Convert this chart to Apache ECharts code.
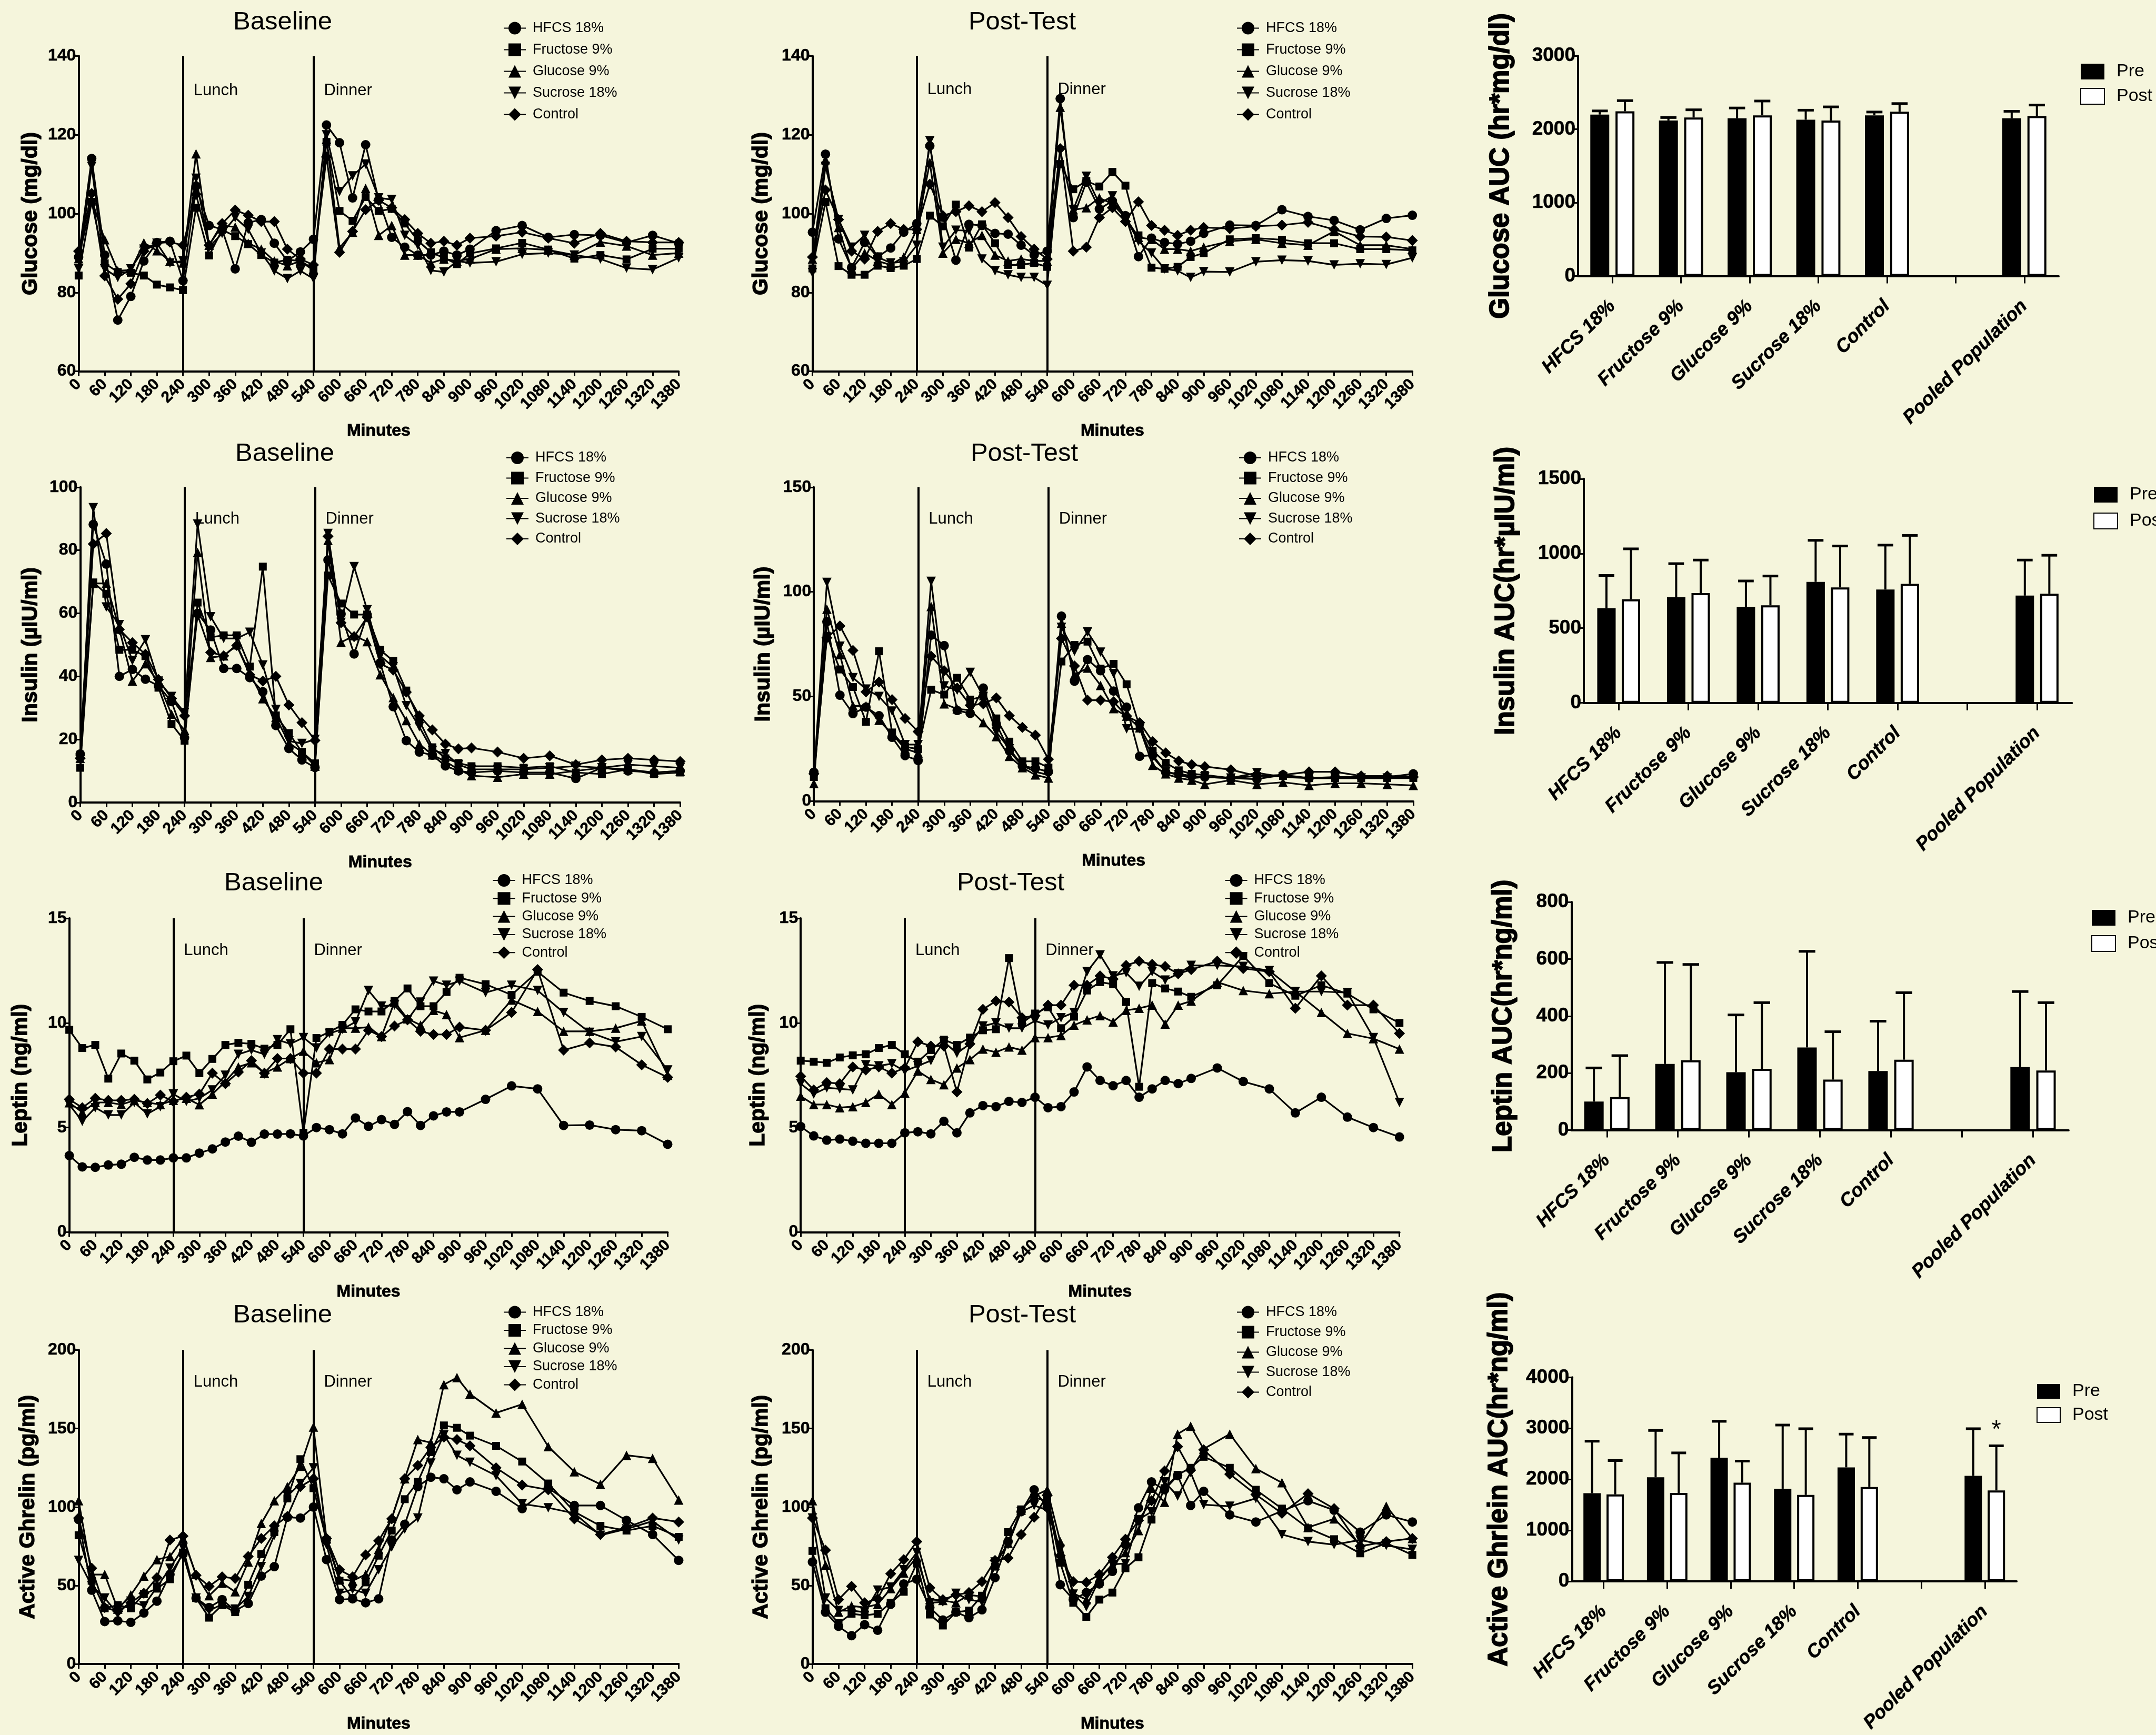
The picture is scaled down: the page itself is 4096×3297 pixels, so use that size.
<!DOCTYPE html>
<html><head><meta charset="utf-8">
<script src="https://cdn.jsdelivr.net/npm/echarts@6/dist/echarts.min.js"></script>
<style>html,body{margin:0;padding:0;background:#F5F5DC}#c{width:4096px;height:3297px}</style>
</head><body><div id="c"></div>
<script>
// ---------------- DATA ----------------
const minutes = [0,30,60,90,120,150,180,210,240,270,300,330,360,390,420,450,480,510,540,570,600,630,660,690,720,750,780,810,840,870,900,960,1020,1080,1140,1200,1260,1320,1380];
const groups = ['HFCS 18%','Fructose 9%','Glucose 9%','Sucrose 18%','Control'];

const glucoseBaseHFCS = [89,114,89.5,73,79,88,92.7,93,83,107,97,96,86,97.7,98.5,92.5,88,90.3,93.5,122.5,118,104,117.5,103.5,94,91.5,89.5,89.5,90.5,89.5,91,95.7,97,94,94.7,94.5,92.7,94.5,92.5];
const glucoseBaseFructose = [84.3,103,87.4,85.2,85,84.3,82,81.3,80.6,101.5,89.4,95.9,94.3,92.3,89.5,87.6,88.3,88,85.6,118.2,100.7,98.2,104.2,100.7,101.2,97.5,93.2,90.2,88.8,87.2,89.9,91.2,92.6,90.9,88.6,89.5,88.4,91.1,91.1];
const glucoseBaseGlucose = [88.6,103.5,93.4,85.5,85.7,92.6,90.6,88,87.5,115.2,92,97,96.6,92.5,91,88,86.8,88,86,118.9,91.3,95.3,106.4,94.5,97,89.5,89.5,87.5,88.5,88,88.5,91,91.2,90.8,89.5,92.8,91.8,89.5,90];
const glucoseBaseSucrose = [86,112,86,83.8,86,91,92.5,87.5,88,109,91.5,95,99,96,90,85.5,83.5,85.5,83.5,120,105.6,109.6,112.6,104,103.6,94.5,92,85.6,85.2,88,87.5,87.8,89.7,90,89.5,88.5,86.2,85.8,88.8];
const glucoseBaseControl = [90.5,105.1,84.2,78.3,82.2,90.5,92.5,92.8,92,104.9,92,97.5,100.9,99.6,98,98,91,88.5,87,114.4,90.2,95.5,101,103.4,101.5,98.5,95,92.5,93,92,93.8,94.3,95.3,93.8,92.5,95,93,92.7,92.7];

const glucosePostHFCS = [95.3,115.1,93.6,86.3,92.7,89,91.3,95.3,97.5,117.2,99.1,88.2,97.3,97,95,94.8,92,89.5,90.5,129.2,99,108,101.2,103.2,99.5,89.1,93.8,92.7,92.3,93,95,97.1,97,101,99.3,98.3,95.9,98.8,99.6];
const glucosePostFructose = [86.1,103,86.7,84.5,84.5,86.8,86.2,86.8,88.5,99.5,96.8,102.3,91.4,97.3,92.5,87,87,87.5,86.5,112.6,106.2,108.3,106.9,110.6,107.1,94.5,86.3,86,86.5,89,90,93.5,93.8,93.4,92.5,92.5,91,91,90.7];
const glucosePostGlucose = [88.5,113.7,96.5,86,90,88,87,89,96,113,90,93.5,92.5,94.5,89.5,88,88.5,88,88,127,101,101.5,104,102.5,99,94,93.5,91,91,90.5,91.5,93,93.5,92.5,92,95.5,92,92,91];
const glucosePostSucrose = [85,112,98.5,91.5,94.5,89,87.5,87.8,92,118.5,91.5,95.8,95.7,88.5,85.5,84.5,83.8,83.8,81.8,116,101,109.5,102.5,104.5,99,93,90,86,85.5,83.8,85.3,85.2,87.8,88.2,88,87,87.3,87.1,88.8];
const glucosePostControl = [89,106,98.5,90.5,88.5,95.5,97.5,96,96,107.5,99.5,100.5,102,100.5,102.8,99,94.2,91,88.5,116.5,90.5,91.5,99,101.5,98,103,97,95.8,94.5,95.8,96.5,96.2,96.8,97.1,97.8,96,94.2,94.1,93.2];

const insulinBaseHFCS = [15.4,88.2,75.6,40,42.2,39.1,37,32,20.5,60,54.7,42.5,42.5,39.6,35.1,24.4,17.1,13.5,11.1,76.9,59.8,47.1,59.5,44.3,30.4,19.6,16,15,11.6,10,9.5,10,9.5,9.5,7.6,11,10,9.5,10];
const insulinBaseFructose = [11,69.8,66.2,48.4,48.4,46.4,36.4,24.9,19.6,63.4,52.4,53,53,43.1,74.8,27.6,22,16,12.4,72,63.1,59.6,59.6,48.4,44.9,35.5,26,17.5,14,12.5,11.5,11.5,11,11.5,9.5,9,10.5,9,9.5];
const insulinBaseGlucose = [14,69.5,69.5,55,38.5,44,38,28,22.9,79.3,46,46.5,50,41,32.9,27,18.9,16,11.5,83.1,50.8,52.9,51,40.5,33.3,26,18.5,15.1,13,10.5,8.5,8,9,9,10,11,10.5,9.5,10];
const insulinBaseSucrose = [13.5,93.5,62,56.4,45,51.6,38.5,33.6,28.5,88.3,58.9,52,52,54,43.6,29.5,19.5,18.7,20,85.3,57.1,74.8,61.1,46.5,43,30.7,24,16.5,15.5,12,10.5,10.5,10.5,11,11.5,11,12,11.5,11];
const insulinBaseControl = [14,82,85.3,54.9,50.7,47,39,33,27.5,59.5,47.6,46.5,49.8,40.5,38.5,40,30.9,25.3,19.7,84.4,57,52.6,58.8,44,42,35,27.5,23,18.5,17,17.3,16,14,14.8,12,13.5,14,13.5,13];

const insulinPostHFCS = [13.8,85.7,50.6,41.8,44.9,40.8,30.5,21.7,19.4,79.3,74.3,43.3,41.9,54,36.8,24,16.7,15.7,14,88.4,57.3,67.6,62.3,52.6,44.9,21.4,22,13.8,13,12,11.5,11,10.5,12.5,11,11.5,11.5,11.5,13];
const insulinPostFructose = [11.5,79,62.9,54.5,37.9,71.6,32.8,26,24.8,53.2,50.9,58.9,48.5,50,39.5,28.4,19,19,16,66.7,74.6,76.2,63.3,65.6,55.8,35.5,24.1,18.3,14.7,13,12.5,11,12,12,11,11,11,11,11];
const insulinPostGlucose = [8.4,91.7,70,45.5,45.5,38.6,32.1,25,23,93,46.5,44,43.5,37.5,30.8,21.4,16,12.5,11,85,60.3,63.6,55.3,44.2,40.6,35,17.1,13,11,10,8,10,8,9,7.5,8.5,8.5,8,7.5];
const insulinPostSucrose = [12,104.5,74,59,53.5,50,43,27,27,105,55,53,61.5,50,33,25,17,14,12.5,83,71.6,80.8,71.2,60.9,34.5,34.5,21,14,12.5,11,11.5,11,13.5,11.5,11,11,11,11,11.5];
const insulinPostControl = [13,78,83.7,72,52.2,56.9,48.5,39.5,33.2,69.2,62.3,54,45.8,46.5,49.3,40.8,35.2,31.5,20,77.7,64.6,48.2,48.2,47.5,40.6,37.5,28.4,23,19.2,17.4,16.5,15,12,12.5,14,14,12,12,11.5];

const leptinBaseHFCS = [3.66,3.12,3.1,3.21,3.25,3.58,3.45,3.45,3.55,3.55,3.78,3.98,4.31,4.59,4.3,4.69,4.69,4.7,4.6,5.0,4.9,4.7,5.46,5.06,5.38,5.15,5.76,5.1,5.56,5.75,5.75,6.35,6.99,6.85,5.1,5.12,4.9,4.85,4.2];
const leptinBaseFructose = [9.67,8.8,8.95,7.34,8.54,8.2,7.3,7.63,8.17,8.44,7.6,8.28,8.95,9.05,9,8.77,8.95,9.7,4.75,9.28,9.57,9.91,10.65,10.55,10.55,11.05,11.65,10.8,10.8,11.48,12.16,11.85,11.34,12.45,11.45,11.05,10.8,10.29,9.7];
const leptinBaseGlucose = [6.19,5.73,6.2,6.2,6.1,6.3,6.2,6.1,6.3,6.4,6.09,6.6,7.2,7.9,8.1,7.6,7.9,8.3,8.65,8.1,8.25,9.75,9.75,9.8,9.35,11,10.2,9.9,10.6,10.4,9.3,9.65,11.1,10.55,9.6,9.6,9.75,10.1,7.5];
const leptinBaseSucrose = [6.1,5.3,5.95,5.6,5.6,6.2,5.65,6,6.6,6.25,6.4,6.8,7.5,8.5,8.7,8.5,9.2,9.0,9.3,8.8,9.5,9.7,10.05,11.55,10.8,10.85,10.15,11,12,11.8,12,11.45,11.8,11.55,10.5,9.55,9.1,9.35,7.75];
const leptinBaseControl = [6.35,5.95,6.4,6.3,6.3,6.35,6.15,6.55,6.25,6.45,6.6,7.6,7.1,7.65,8.2,7.6,8.3,8.3,7.6,7.6,8.75,8.75,8.75,9.65,9.35,9.85,10.15,9.6,9.45,9.45,9.8,9.65,10.5,12.55,8.7,9.05,8.85,8,7.4];

const leptinPostHFCS = [5.05,4.6,4.4,4.45,4.35,4.25,4.25,4.25,4.75,4.8,4.7,5.3,4.75,5.7,6.05,6.0,6.25,6.2,6.45,5.95,6.0,6.7,7.9,7.25,7.0,7.25,6.45,6.85,7.25,7.1,7.35,7.85,7.2,6.85,5.7,6.45,5.5,5.0,4.55];
const leptinPostFructose = [8.2,8.15,8.1,8.35,8.45,8.5,8.8,8.95,8.5,8.15,8.7,9.2,8.95,9.3,9.65,9.7,13.1,10.0,10.45,10.75,9.75,10.3,11.55,11.95,11.85,11.0,6.95,11.9,11.65,11.5,11.25,11.8,13.2,11.9,11.3,11.8,11.4,10.65,10.0];
const leptinPostGlucose = [6.5,6.1,6.1,5.95,6.0,6.2,6.6,6.1,6.65,7.7,7.3,7.05,7.85,8.25,8.75,8.6,8.85,8.7,9.3,9.3,9.4,9.9,10.15,10.35,10.05,10.6,10.7,10.85,9.95,10.85,11.05,11.95,11.55,11.4,11.5,10.5,9.5,9.25,8.75];
const leptinPostSucrose = [7.1,6.6,6.9,6.85,6.8,8.0,7.95,8.05,7.7,7.95,8.2,9.1,8.55,9.0,9.85,10.0,9.75,9.75,10.1,9.9,10.25,10.5,12.45,13.25,12.25,12.4,11.75,12.45,12.05,12.35,12.75,12.75,12.7,12.5,11.5,11.5,11.45,9.3,6.2];
const leptinPostControl = [7.45,6.8,7.15,7.1,7.9,7.75,7.9,7.6,7.85,9.1,8.9,8.9,6.7,9.0,10.65,11.05,11.0,10.25,10.35,10.85,10.85,11.8,11.8,12.25,12.1,12.75,12.95,12.8,12.7,12.35,12.55,12.95,12.6,12.45,10.7,12.25,10.85,10.85,9.5];

const ghrelinBaseHFCS = [92,47,27,27.5,26.5,32.5,40,57,70,42,36,41,34,38.5,56,62,93.5,93,100,66.5,41,41.5,39,41.5,79,89,113,119,118,111,116,110,99,112,101,101,91.5,82.5,66];
const ghrelinBaseFructose = [82,53,35.5,37.5,35.5,44.5,48,54,71,42,29.5,37.5,33,50.5,70,84,105.5,130.5,112,79,53,42,52,69,85,105,116,135,152,150.5,145.5,139,129,115,97,88,85,88,81];
const ghrelinBaseGlucose = [104,57,57,35,44,56,66.5,68.5,80,57,43.5,51.5,46,65,89.5,104,113,126,151,80,54,53,57,73,93,118,143,141,178,182.5,172,160,165.5,138.5,122.5,114.5,133,131,104.5];
const ghrelinBaseSucrose = [66,50,42,32,40,37,49,61,74,42,34,38,35,43,62,82,107,115,125,76,45,47.5,45,60,74.5,86,93,128,146,133,128.5,120,102,99.5,96,82,86,91,79];
const ghrelinBaseControl = [93,61,36,33.5,39,45,55,79,81.5,56.5,49.5,55.5,54.5,68.5,80,88,94,113,118,80,60,55.5,69.5,78.5,92.5,118,126.5,138,144.5,143,139,125,114,111,92.5,82.5,87,93,90.5];

const ghrelinPostHFCS = [65,33,24,18,25,21.5,38,51,54,36,28,33,29.5,34.5,55,78,97,111,100,50.5,41,45.5,51,59,76,99.5,116,111,120,101,110,95,90.5,97.5,104,98,84,95,90.5];
const ghrelinPostFructose = [72,35.5,26,32,31,32,39,46,64,31.5,24.5,33,34,43.5,62,84,98.5,106,104,64.5,39,30,41,45.5,61,68,92,112,120.5,125,132,125,111,99,86.5,79.5,70.5,77,69.5];
const ghrelinPostGlucose = [104,63,33,37,36,38,48,58,68,41,40.5,39,44,43,63,77,98,107,111,78,45,41,55,63,71,85,112,103,146.5,151.5,137,146.5,124.5,115.5,87,92.5,76,100.5,80];
const ghrelinPostSucrose = [93,42,34,34,33,47,49,60,71,39,39.5,45,41,39.5,65,76,97,101,98,73,44.5,36.5,54,63.5,64,92,97,116,107,122,101.5,100.5,105.5,82.5,78,76,79,75.5,73];
const ghrelinPostControl = [93,72.5,41,49.5,39,41.5,57.5,66.5,78,48.5,41,44,45.5,52.5,66,67.5,82.5,93.5,107.5,69,52.5,52,57,68,79.5,91.5,104,123,138.5,123.5,136.5,121,108,96,108.5,99,75,78,80];

// axis ranges [min, max, interval]
const glucoseRange = [60,140,20];
const insulinBaseRange = [0,100,20];
const insulinPostRange = [0,150,50];
const leptinRange = [0,15,5];
const ghrelinRange = [0,200,50];
const minutesRange = [0,1380,60];
const mealTimes = [240,540];
const mealNames = ['Lunch','Dinner'];

// AUC bar data
const aucCategories = ['HFCS 18%','Fructose 9%','Glucose 9%','Sucrose 18%','Control','','Pooled Population'];
const glucoseAucPre = [2200,2120,2150,2130,2190,null,2150];
const glucoseAucPreSD = [50,40,140,130,45,null,95];
const glucoseAucPost = [2245,2160,2190,2120,2240,null,2180];
const glucoseAucPostSD = [145,105,195,185,110,null,150];
const glucoseAucRange = [0,3000,1000];

const insulinAucPre = [634,707,643,810,759,null,718];
const insulinAucPreSD = [219,225,173,278,297,null,238];
const insulinAucPost = [694,735,653,773,797,null,731];
const insulinAucPostSD = [337,221,196,277,324,null,257];
const insulinAucRange = [0,1500,500];

const leptinAucPre = [100,232,203,290,207,null,221];
const leptinAucPreSD = [118,356,201,337,175,null,265];
const leptinAucPost = [116,245,215,177,247,null,209];
const leptinAucPostSD = [145,336,232,168,235,null,238];
const leptinAucRange = [0,800,200];

const ghrelinAucPre = [1727,2039,2423,1816,2234,null,2067];
const ghrelinAucPreSD = [1020,919,714,1248,652,null,925];
const ghrelinAucPost = [1705,1733,1933,1694,1850,null,1783];
const ghrelinAucPostSD = [663,785,424,1298,969,null,874];
const ghrelinAucRange = [0,4000,1000];
const significanceMark = '*';

// ---------------- LAYOUT / STYLE ----------------
const FONT = 'Liberation Sans';
const BG = '#F5F5DC';
const symbols = ['circle','rect','triangle','triangle','diamond'];
const rotations = [0,0,0,180,0];
const symbolSizes = [18,15,18,18,21];
const plain = v => String(v);

const linePanels = [
  {g:[149.4,106.5,1140,599.1], d:[glucoseBaseHFCS,glucoseBaseFructose,glucoseBaseGlucose,glucoseBaseSucrose,glucoseBaseControl], r:glucoseRange, yName:'Glucose (mg/dl)', ng:70, title:'Baseline', t:[537,42.6], leg:[956,53.5,41], meal:66},
  {g:[1543.5,106.5,1139.7,599.1], d:[glucosePostHFCS,glucosePostFructose,glucosePostGlucose,glucosePostSucrose,glucosePostControl], r:glucoseRange, yName:'Glucose (mg/dl)', ng:76, title:'Post-Test', t:[1942,42.6], leg:[2349,53.5,41], meal:64},
  {g:[152.4,925.8,1139.8,599.1], d:[insulinBaseHFCS,insulinBaseFructose,insulinBaseGlucose,insulinBaseSucrose,insulinBaseControl], r:insulinBaseRange, yName:'Insulin (\u00b5IU/ml)', ng:73, title:'Baseline', t:[541,862], leg:[961,870,38.5], meal:61},
  {g:[1546.2,925.8,1138.8,596.5], d:[insulinPostHFCS,insulinPostFructose,insulinPostGlucose,insulinPostSucrose,insulinPostControl], r:insulinPostRange, yName:'Insulin (\u00b5IU/ml)', ng:75, title:'Post-Test', t:[1946,862], leg:[2353,870,38.5], meal:61},
  {g:[131.6,1745.1,1136.9,596.4], d:[leptinBaseHFCS,leptinBaseFructose,leptinBaseGlucose,leptinBaseSucrose,leptinBaseControl], r:leptinRange, yName:'Leptin (ng/ml)', ng:71, title:'Baseline', t:[520,1678.7], leg:[935.5,1673,34.3], meal:61},
  {g:[1521.2,1745.1,1137.5,596.4], d:[leptinPostHFCS,leptinPostFructose,leptinPostGlucose,leptinPostSucrose,leptinPostControl], r:leptinRange, yName:'Leptin (ng/ml)', ng:60, title:'Post-Test', t:[1920,1678.7], leg:[2326.6,1673,34.3], meal:61},
  {g:[149.4,2565.6,1140,596.4], d:[ghrelinBaseHFCS,ghrelinBaseFructose,ghrelinBaseGlucose,ghrelinBaseSucrose,ghrelinBaseControl], r:ghrelinRange, yName:'Active Ghrelin (pg/ml)', ng:75, title:'Baseline', t:[537,2499], leg:[956,2493.5,34.5], meal:61},
  {g:[1543.5,2565.6,1139.7,596.4], d:[ghrelinPostHFCS,ghrelinPostFructose,ghrelinPostGlucose,ghrelinPostSucrose,ghrelinPostControl], r:ghrelinRange, yName:'Active Ghrelin (pg/ml)', ng:76, title:'Post-Test', t:[1942,2499], leg:[2349,2493.5,38], meal:61}
];

const barPanels = [
  {g:[2998,106.2,913,418.3], pre:glucoseAucPre, preSD:glucoseAucPreSD, post:glucoseAucPost, postSD:glucoseAucPostSD, r:glucoseAucRange, yName:'Glucose AUC (hr*mg/dl)', ng:121, bw:36, leg:[3952,136,47], li:[45,30]},
  {g:[3009,909.8,927.3,425.9], pre:insulinAucPre, preSD:insulinAucPreSD, post:insulinAucPost, postSD:insulinAucPostSD, r:insulinAucRange, yName:'Insulin AUC(hr*\u00b5IU/ml)', ng:122, bw:35, leg:[3977,940,50], li:[45,30]},
  {g:[2985.3,1714.1,944.6,433.4], pre:leptinAucPre, preSD:leptinAucPreSD, post:leptinAucPost, postSD:leptinAucPostSD, r:leptinAucRange, yName:'Leptin AUC(hr*ng/ml)', ng:103, bw:37, leg:[3973,1744,49], li:[45,30]},
  {g:[2986.3,2617.3,844.8,387.6], pre:ghrelinAucPre, preSD:ghrelinAucPreSD, post:ghrelinAucPost, postSD:ghrelinAucPostSD, r:ghrelinAucRange, yName:'Active Ghrlein AUC(hr*ng/ml)', ng:112, bw:33, leg:[3869,2644,45], li:[44,28], star:true}
];

const AXW = 4;
const axisLineStyle = {color:'#000', width:AXW};
const grids = [], xAxes = [], yAxes = [], series = [], legends = [];
const heavy = {textBorderColor:'#000', textBorderWidth:1.4};
const LEG_ROW = 27;

linePanels.forEach((p, i) => {
  grids.push({left:p.g[0], top:p.g[1], width:p.g[2], height:p.g[3], containLabel:false});
  xAxes.push({type:'value', gridIndex:i, min:minutesRange[0], max:minutesRange[1], interval:minutesRange[2],
    name:'Minutes', nameLocation:'middle', nameGap:98,
    nameTextStyle:Object.assign({fontFamily:FONT, fontWeight:'bold', fontSize:32, color:'#000'}, {textBorderColor:'#000', textBorderWidth:0.8}),
    axisLine:{show:true, onZero:false, lineStyle:axisLineStyle},
    axisTick:{show:true, length:9, lineStyle:{color:'#000', width:3}},
    axisLabel:{rotate:45, margin:20, fontFamily:FONT, fontWeight:'bold', fontSize:30, color:'#000', formatter:plain,
      textBorderColor:'#000', textBorderWidth:0.6},
    splitLine:{show:false}});
  yAxes.push({type:'value', gridIndex:i, min:p.r[0], max:p.r[1], interval:p.r[2],
    name:p.yName, nameLocation:'middle', nameGap:p.ng,
    nameTextStyle:Object.assign({fontFamily:FONT, fontWeight:'bold', fontSize:41, color:'#000'}, heavy),
    axisLine:{show:true, onZero:false, lineStyle:axisLineStyle},
    axisTick:{show:true, length:8, lineStyle:{color:'#000', width:3}},
    axisLabel:{margin:5, fontFamily:FONT, fontWeight:'bold', fontSize:32, color:'#000', formatter:plain,
      textBorderColor:'#000', textBorderWidth:0.6},
    splitLine:{show:false}});
  p.d.forEach((arr, k) => {
    const s = {
      name:groups[k], type:'line', xAxisIndex:i, yAxisIndex:i,
      data: minutes.map((t, j) => [t, arr[j]]),
      symbol:symbols[k], symbolRotate:rotations[k], symbolSize:symbolSizes[k],
      lineStyle:{color:'#000', width:3.2}, itemStyle:{color:'#000'},
      emphasis:{disabled:true}, silent:true, z:3
    };
    if (k === 0) {
      s.markLine = {silent:true, symbol:['none','none'], label:{show:false},
        lineStyle:{color:'#000', width:AXW, type:'solid'}, emphasis:{disabled:true},
        data: mealTimes.map(m => ({xAxis:m}))};
    }
    series.push(s);
  });
  legends.push({data:groups, orient:'vertical', left:p.leg[0], top:p.leg[1]-LEG_ROW/2, itemGap:p.leg[2]-LEG_ROW,
    itemWidth:42, itemHeight:30, padding:0, selectedMode:false,
    textStyle:{fontFamily:FONT, fontSize:27, color:'#000', lineHeight:27, padding:[0,0,0,8]}});
});

function errorSeries(gi, means, sds, offset, cap) {
  const data = [];
  means.forEach((m, k) => { if (m != null) data.push([k, m, sds[k]]); });
  return {type:'custom', xAxisIndex:gi, yAxisIndex:gi, z:5, silent:true, data:data,
    renderItem(params, api) {
      const x = api.value(0), m = api.value(1), s = api.value(2);
      const b = api.coord([x, m]); const t = api.coord([x, m + s]);
      const cx = b[0] + offset;
      return {type:'group', children:[
        {type:'line', shape:{x1:cx, y1:b[1], x2:cx, y2:t[1]}, style:{stroke:'#000', lineWidth:AXW}},
        {type:'line', shape:{x1:cx-cap/2, y1:t[1], x2:cx+cap/2, y2:t[1]}, style:{stroke:'#000', lineWidth:AXW+1}}
      ]};
    }};
}

barPanels.forEach((p, j) => {
  const i = linePanels.length + j;
  grids.push({left:p.g[0], top:p.g[1], width:p.g[2], height:p.g[3], containLabel:false});
  xAxes.push({type:'category', gridIndex:i, data:aucCategories, boundaryGap:true,
    axisLine:{show:true, lineStyle:axisLineStyle},
    axisTick:{show:true, alignWithLabel:true, interval:0, length:14, lineStyle:{color:'#000', width:3}},
    axisLabel:{interval:0, rotate:45, margin:52, fontFamily:FONT, fontWeight:'bold', fontStyle:'italic', fontSize:36, color:'#000',
      textBorderColor:'#000', textBorderWidth:0.6},
    splitLine:{show:false}});
  yAxes.push({type:'value', gridIndex:i, min:p.r[0], max:p.r[1], interval:p.r[2],
    name:p.yName, nameLocation:'middle', nameGap:p.ng,
    nameTextStyle:Object.assign({fontFamily:FONT, fontWeight:'bold', fontSize:51, color:'#000'}, {textBorderColor:'#000', textBorderWidth:1.8}),
    axisLine:{show:true, lineStyle:axisLineStyle},
    axisTick:{show:true, length:9, lineStyle:{color:'#000', width:3}},
    axisLabel:{margin:5, fontFamily:FONT, fontWeight:'bold', fontSize:37, color:'#000', formatter:plain,
      textBorderColor:'#000', textBorderWidth:0.6},
    splitLine:{show:false}});
  const gap = 0.33;
  const off = p.bw * (1 + gap) / 2;
  series.push({name:'Pre', type:'bar', xAxisIndex:i, yAxisIndex:i, data:p.pre.map(v => v == null ? '-' : v),
    barWidth:p.bw, barGap:(gap*100)+'%', itemStyle:{color:'#000'}, silent:true, z:2});
  series.push({name:'Post', type:'bar', xAxisIndex:i, yAxisIndex:i, data:p.post.map(v => v == null ? '-' : v),
    barWidth:p.bw, barGap:(gap*100)+'%', itemStyle:{color:'#fff', borderColor:'#000', borderWidth:AXW}, silent:true, z:2});
  series.push(errorSeries(i, p.pre, p.preSD, -off, p.bw*0.85));
  series.push(errorSeries(i, p.post, p.postSD, off, p.bw*0.85));
  legends.push({data:['Pre','Post'], orient:'vertical', left:p.leg[0], top:p.leg[1]-17, itemGap:p.leg[2]-34,
    itemWidth:p.li[0], itemHeight:p.li[1], icon:'rect', padding:0, selectedMode:false,
    textStyle:{fontFamily:FONT, fontSize:34, color:'#000', lineHeight:34, padding:[0,0,0,18]}});
  p._off = off;
});

const chart = echarts.init(document.getElementById('c'), null, {renderer:'canvas', width:4096, height:3297});
chart.setOption({
  backgroundColor:BG, animation:false,
  grid:grids, xAxis:xAxes, yAxis:yAxes, series:series, legend:legends
});

// ---------- text overlays ----------
const els = [];
function txt(x, y, text, size, weight, align) {
  els.push({type:'text', x:x, y:y, silent:true, z:10,
    style:{text:text, fill:'#000', font:(weight||'normal')+' '+size+'px "'+FONT+'"',
      fontFamily:FONT, fontSize:size, fontWeight:weight||'normal',
      textAlign:align||'center', textVerticalAlign:'middle', align:align||'center', verticalAlign:'middle'}});
}
linePanels.forEach((p, i) => {
  txt(p.t[0], p.t[1], p.title, 49, 'normal', 'center');
  mealTimes.forEach((m, k) => {
    const px = chart.convertToPixel({gridIndex:i}, [m, p.r[1]]);
    txt(px[0] + 20, px[1] + p.meal, mealNames[k], 31, 'normal', 'left');
  });
});
barPanels.forEach((p, j) => {
  if (p.star) {
    const i = linePanels.length + j;
    const k = aucCategories.length - 1;
    const px = chart.convertToPixel({gridIndex:i}, [k, p.post[k] + p.postSD[k] + 420]);
    txt(px[0] + p._off, px[1] + 12, significanceMark, 46, 'normal', 'center');
  }
});
chart.setOption({graphic:{elements:els}});
</script>
</body></html>
